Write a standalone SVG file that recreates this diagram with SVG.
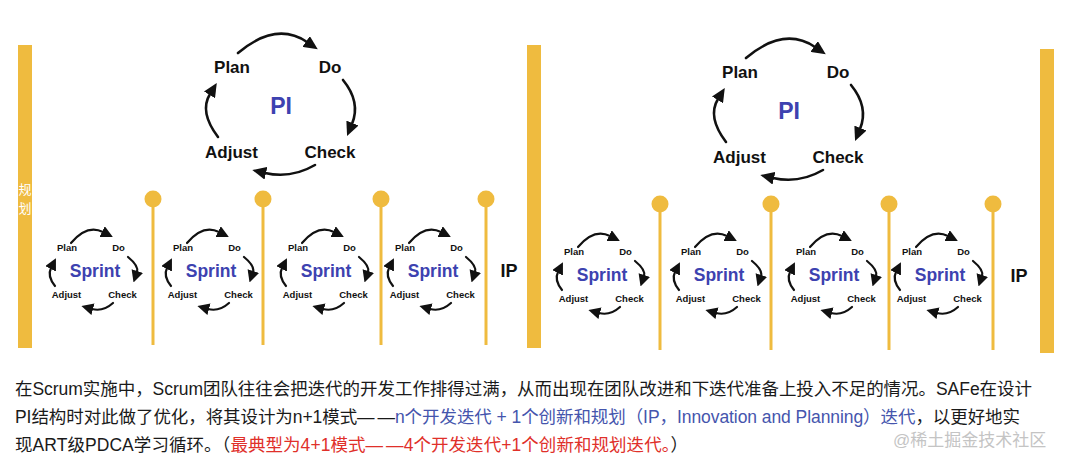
<svg xmlns="http://www.w3.org/2000/svg" xmlns:xlink="http://www.w3.org/1999/xlink" width="1080" height="467" viewBox="0 0 1080 467">
<style>
.bar{fill:#efbb3f}
.pin circle{fill:#efbb3f}
.pin line{stroke:#efbb3f;stroke-width:3}
.lbl{font-family:"Liberation Sans","Noto Sans CJK SC",sans-serif;font-weight:bold;fill:#111;text-anchor:middle}
.s{font-size:9.5px}
.p{font-size:17px}
.ttl{font-family:"Liberation Sans",sans-serif;font-weight:bold;fill:#3d42b0;text-anchor:middle}
.arcS{fill:none;stroke:#111;stroke-width:2.2;stroke-linecap:round;marker-end:url(#ahS)}
.arcP{fill:none;stroke:#111;stroke-width:2.6;stroke-linecap:round;marker-end:url(#ahP)}
.body{font-family:"Liberation Sans","Noto Sans CJK SC",sans-serif;font-size:17.5px;fill:#1a1a1a}
.blue{fill:#4555ad}
.red{fill:#e0302a}
.dash{letter-spacing:3px}
</style>
<defs>
<marker id="ahS" viewBox="0 0 12 12" refX="1" refY="6" markerWidth="12" markerHeight="12" markerUnits="userSpaceOnUse" orient="auto">
<path d="M0,0 L12,6 L0,12 Z" fill="#111"/>
</marker>
<marker id="ahP" viewBox="0 0 14 13" refX="1" refY="6.5" markerWidth="14" markerHeight="13" markerUnits="userSpaceOnUse" orient="auto">
<path d="M0,0 L14,6.5 L0,13 Z" fill="#111"/>
</marker>
<g id="sprintArrows">
<path class="arcS" d="M-24,-27 Q-8,-46 8,-38"/>
<path class="arcS" d="M33,-13 Q44,-4 42,2"/>
<path class="arcS" d="M18,33 Q8,42 -3,39"/>
<path class="arcS" d="M-40,16 Q-48,6 -44,-2"/>
</g>
<g id="piArrows">
<path class="arcP" d="M-43,-54 Q-5,-86 26,-65"/>
<path class="arcP" d="M62,-27 Q80,-5 71,17"/>
<path class="arcP" d="M34,58 Q10,72 -16,66"/>
<path class="arcP" d="M-63,30 Q-82,5 -71,-13"/>
</g>
</defs>
<rect width="1080" height="467" fill="#fff"/>

<g id="bar-left"><rect class="bar" x="18" y="45" width="14" height="303"/>
<text x="25" y="194" font-family="Noto Sans CJK SC,sans-serif" font-size="13" fill="#fff" text-anchor="middle">规</text>
<text x="25" y="213" font-family="Noto Sans CJK SC,sans-serif" font-size="13" fill="#fff" text-anchor="middle">划</text></g>
<g id="bar-mid"><rect class="bar" x="527" y="45" width="14" height="303"/></g>
<g id="bar-right"><rect class="bar" x="1040" y="49" width="14" height="304"/></g>

<g id="pins-left">
<g class="pin"><line x1="153" y1="199" x2="153" y2="345"/><circle cx="153" cy="199" r="8.5"/></g>
<g class="pin"><line x1="263" y1="199" x2="263" y2="345"/><circle cx="263" cy="199" r="8.5"/></g>
<g class="pin"><line x1="381" y1="199" x2="381" y2="345"/><circle cx="381" cy="199" r="8.5"/></g>
<g class="pin"><line x1="486" y1="199" x2="486" y2="345"/><circle cx="486" cy="199" r="8.5"/></g>
</g>
<g id="pins-right">
<g class="pin"><line x1="660" y1="204" x2="660" y2="350"/><circle cx="660" cy="204" r="8.5"/></g>
<g class="pin"><line x1="771" y1="204" x2="771" y2="350"/><circle cx="771" cy="204" r="8.5"/></g>
<g class="pin"><line x1="889" y1="204" x2="889" y2="350"/><circle cx="889" cy="204" r="8.5"/></g>
<g class="pin"><line x1="993" y1="204" x2="993" y2="350"/><circle cx="993" cy="204" r="8.5"/></g>
</g>

<g id="pi-left" transform="translate(281,107)">
<use xlink:href="#piArrows"/>
<text class="lbl p" x="-49" y="-34">Plan</text>
<text class="lbl p" x="49" y="-34">Do</text>
<text class="lbl p" x="-49.5" y="51">Adjust</text>
<text class="lbl p" x="49" y="51">Check</text>
<text class="ttl" x="0" y="7" font-size="23">PI</text>
</g>
<g id="pi-right" transform="translate(789,112)">
<use xlink:href="#piArrows"/>
<text class="lbl p" x="-49" y="-34">Plan</text>
<text class="lbl p" x="49" y="-34">Do</text>
<text class="lbl p" x="-49.5" y="51">Adjust</text>
<text class="lbl p" x="49" y="51">Check</text>
<text class="ttl" x="0" y="7" font-size="23">PI</text>
</g>

<g id="sprint-l1" transform="translate(95,270)">
<use xlink:href="#sprintArrows"/>
<text class="lbl s" x="-28" y="-19">Plan</text><text class="lbl s" x="23.5" y="-19">Do</text>
<text class="lbl s" x="-28.5" y="28">Adjust</text><text class="lbl s" x="27.5" y="28">Check</text>
<text class="ttl" x="0" y="7" font-size="17.5">Sprint</text>
</g>
<g id="sprint-l2" transform="translate(211,270)">
<use xlink:href="#sprintArrows"/>
<text class="lbl s" x="-28" y="-19">Plan</text><text class="lbl s" x="23.5" y="-19">Do</text>
<text class="lbl s" x="-28.5" y="28">Adjust</text><text class="lbl s" x="27.5" y="28">Check</text>
<text class="ttl" x="0" y="7" font-size="17.5">Sprint</text>
</g>
<g id="sprint-l3" transform="translate(326,270)">
<use xlink:href="#sprintArrows"/>
<text class="lbl s" x="-28" y="-19">Plan</text><text class="lbl s" x="23.5" y="-19">Do</text>
<text class="lbl s" x="-28.5" y="28">Adjust</text><text class="lbl s" x="27.5" y="28">Check</text>
<text class="ttl" x="0" y="7" font-size="17.5">Sprint</text>
</g>
<g id="sprint-l4" transform="translate(433,270)">
<use xlink:href="#sprintArrows"/>
<text class="lbl s" x="-28" y="-19">Plan</text><text class="lbl s" x="23.5" y="-19">Do</text>
<text class="lbl s" x="-28.5" y="28">Adjust</text><text class="lbl s" x="27.5" y="28">Check</text>
<text class="ttl" x="0" y="7" font-size="17.5">Sprint</text>
</g>
<g id="ip-left"><text class="lbl" x="509" y="277" font-size="18">IP</text></g>

<g id="sprint-r1" transform="translate(602,274)">
<use xlink:href="#sprintArrows"/>
<text class="lbl s" x="-28" y="-19">Plan</text><text class="lbl s" x="23.5" y="-19">Do</text>
<text class="lbl s" x="-28.5" y="28">Adjust</text><text class="lbl s" x="27.5" y="28">Check</text>
<text class="ttl" x="0" y="7" font-size="17.5">Sprint</text>
</g>
<g id="sprint-r2" transform="translate(719,274)">
<use xlink:href="#sprintArrows"/>
<text class="lbl s" x="-28" y="-19">Plan</text><text class="lbl s" x="23.5" y="-19">Do</text>
<text class="lbl s" x="-28.5" y="28">Adjust</text><text class="lbl s" x="27.5" y="28">Check</text>
<text class="ttl" x="0" y="7" font-size="17.5">Sprint</text>
</g>
<g id="sprint-r3" transform="translate(834,274)">
<use xlink:href="#sprintArrows"/>
<text class="lbl s" x="-28" y="-19">Plan</text><text class="lbl s" x="23.5" y="-19">Do</text>
<text class="lbl s" x="-28.5" y="28">Adjust</text><text class="lbl s" x="27.5" y="28">Check</text>
<text class="ttl" x="0" y="7" font-size="17.5">Sprint</text>
</g>
<g id="sprint-r4" transform="translate(940,274)">
<use xlink:href="#sprintArrows"/>
<text class="lbl s" x="-28" y="-19">Plan</text><text class="lbl s" x="23.5" y="-19">Do</text>
<text class="lbl s" x="-28.5" y="28">Adjust</text><text class="lbl s" x="27.5" y="28">Check</text>
<text class="ttl" x="0" y="7" font-size="17.5">Sprint</text>
</g>
<g id="ip-right"><text class="lbl" x="1019" y="282" font-size="18">IP</text></g>

<g id="caption">
<text class="body" x="15" y="395" textLength="1017" lengthAdjust="spacing">在Scrum实施中，Scrum团队往往会把迭代的开发工作排得过满，从而出现在团队改进和下迭代准备上投入不足的情况。SAFe在设计</text>
<text class="body" x="15" y="423" textLength="1005" lengthAdjust="spacing">PI结构时对此做了优化，将其设计为n+1模式<tspan class="dash">—</tspan>—<tspan class="blue">n个开发迭代 + 1个创新和规划（IP，Innovation and Planning）迭代</tspan>，以更好地实</text>
<text class="body" x="15" y="451" textLength="673" lengthAdjust="spacing">现ART级PDCA学习循环。（<tspan class="red">最典型为4+1模式<tspan class="dash">—</tspan>—4个开发迭代+1个创新和规划迭代。</tspan>）</text>
<text x="893" y="446" font-family="Liberation Sans,Noto Sans CJK SC,sans-serif" font-size="17" fill="#c4c4c4">@稀土掘金技术社区</text>
</g>
</svg>
